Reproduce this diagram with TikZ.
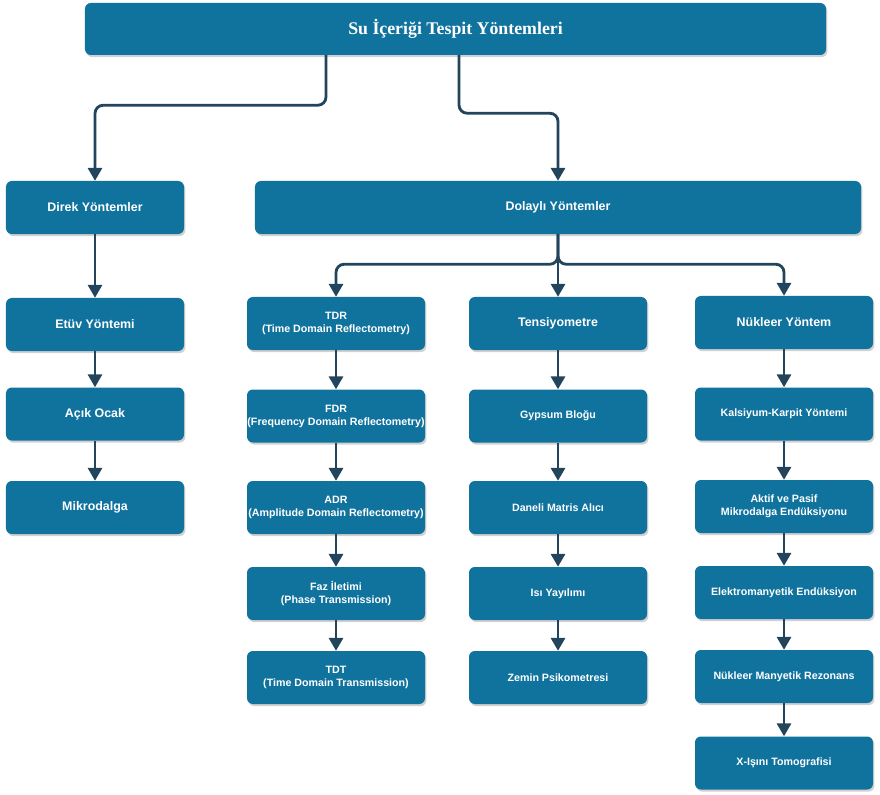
\documentclass[tikz,border=0pt]{standalone}
\usepackage{fontspec}
\setmainfont{Liberation Sans}
\newfontfamily\titlefont{Liberation Serif}
\usepackage{tikz}
\usepackage{xcolor}
\usetikzlibrary{arrows.meta,shadows,calc}
\definecolor{boxblue}{HTML}{10739E}
\definecolor{arrowdark}{HTML}{23445D}

\begin{document}
\begin{tikzpicture}[x=0.03cm,y=-0.03cm,
  box/.style={fill=boxblue,rounded corners=5pt,text=white,align=center,inner sep=0pt,
    font=\bfseries\fontsize{10.6}{12.5}\selectfont,minimum width=5.34cm,minimum height=1.59cm,
    drop shadow={shadow xshift=1.2pt,shadow yshift=-1.8pt,opacity=0.3,fill=black!60}},
  subbox/.style={box,font=\bfseries\fontsize{9.1}{11}\selectfont},
  arr/.style={draw=arrowdark,line width=2.4pt,rounded corners=7pt,-{Triangle[width=12pt,length=11pt]}}]
\useasboundingbox (0,0) rectangle (880,794);
% top level
\node[box,minimum width=22.23cm,minimum height=1.56cm,font=\titlefont\bfseries\fontsize{15.2}{17}\selectfont] (title) at (455.5,29) {Su İçeriği Tespit Yöntemleri};
\node[box] (direk) at (95,207.5) {Direk Yöntemler};
\node[box,minimum width=18.18cm] (dolayli) at (558,207.5) {Dolaylı Yöntemler};
% direct methods
\node[box] (etuv) at (95,324.5) {Etüv Yöntemi};
\node[box] (acik) at (95,414) {Açık Ocak};
\node[box] (mikro) at (95,507.5) {Mikrodalga};
% indirect methods
\node[subbox] (tdr) at (336,323.5) {TDR\\(Time Domain Reflectometry)};
\node[subbox] (fdr) at (336,416) {FDR\\(Frequency Domain Reflectometry)};
\node[subbox] (adr) at (336,507.5) {ADR\\(Amplitude Domain Reflectometry)};
\node[subbox] (faz) at (336,593.5) {Faz İletimi\\(Phase Transmission)};
\node[subbox] (tdt) at (336,677.5) {TDT\\(Time Domain Transmission)};
\node[box] (tensi) at (558,323.5) {Tensiyometre};
\node[subbox] (gypsum) at (558,416) {Gypsum Bloğu};
\node[subbox] (daneli) at (558,507.5) {Daneli Matris Alıcı};
\node[subbox] (isi) at (558,593.5) {Isı Yayılımı};
\node[subbox] (zemin) at (558,677.5) {Zemin Psikometresi};
\node[box] (nukleer) at (784,322.5) {Nükleer Yöntem};
\node[subbox] (kalsiyum) at (784,414) {Kalsiyum-Karpit Yöntemi};
\node[subbox] (aktif) at (784,506.5) {Aktif ve Pasif\\Mikrodalga Endüksiyonu};
\node[subbox] (elektro) at (784,592.5) {Elektromanyetik Endüksiyon};
\node[subbox] (nmr) at (784,676.5) {Nükleer Manyetik Rezonans};
\node[subbox] (xisini) at (784,763) {X-Işını Tomografisi};
% connectors
\draw[arr] ($(title.south)+(-129.5,0)$) -- ++(0,50) -| (direk.north);
\draw[arr] ($(title.south)+(3.5,0)$) -- ++(0,58) -| (dolayli.north);
\draw[arr] (dolayli.south) -- (tensi.north);
\draw[arr] (dolayli.south) -- ++(0,30) -| (tdr.north);
\draw[arr] (dolayli.south) -- ++(0,30) -| (nukleer.north);
\foreach \a/\b in {direk/etuv,etuv/acik,acik/mikro,tdr/fdr,fdr/adr,adr/faz,faz/tdt,
  tensi/gypsum,gypsum/daneli,daneli/isi,isi/zemin,
  nukleer/kalsiyum,kalsiyum/aktif,aktif/elektro,elektro/nmr,nmr/xisini}
  \draw[arr] (\a) -- (\b);
\end{tikzpicture}
\end{document}
